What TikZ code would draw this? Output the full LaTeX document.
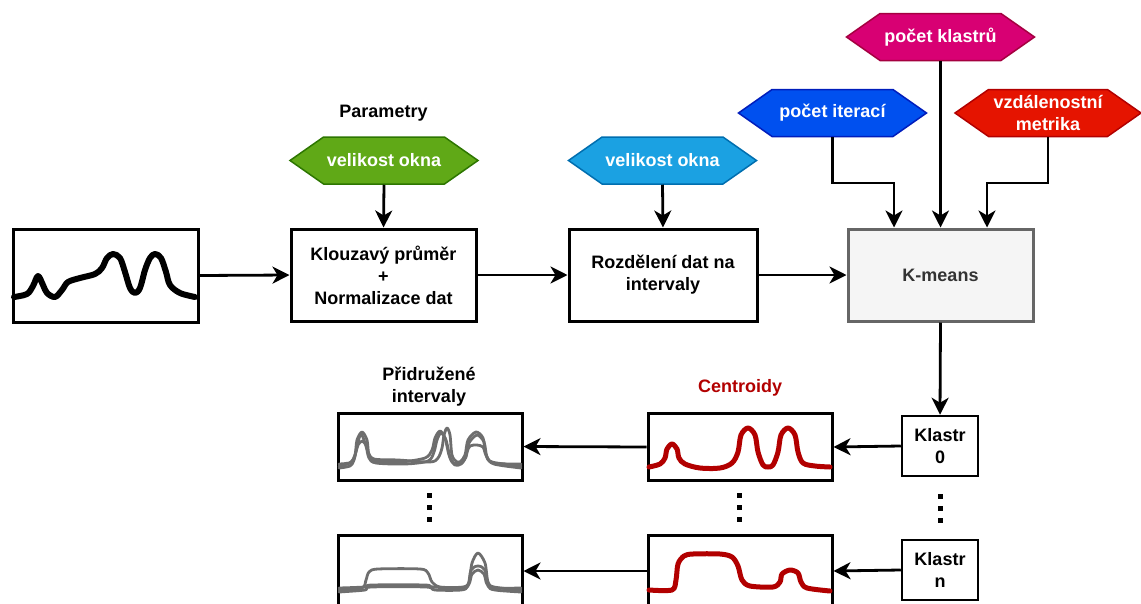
\documentclass[tikz,border=0pt]{standalone}
\usepackage{fontspec}
\setmainfont{Liberation Sans}
\usetikzlibrary{shapes.symbols,arrows.meta}
\definecolor{gfill}{HTML}{60A917}\definecolor{gline}{HTML}{2D7600}
\definecolor{bfill}{HTML}{1BA1E2}\definecolor{bline}{HTML}{006EAF}
\definecolor{mfill}{HTML}{D80073}\definecolor{mline}{HTML}{A50040}
\definecolor{ifill}{HTML}{0050EF}\definecolor{iline}{HTML}{001DBC}
\definecolor{rfill}{HTML}{E51400}\definecolor{rline}{HTML}{B20000}
\definecolor{cred}{HTML}{B20000}
\definecolor{kfill}{HTML}{F5F5F5}\definecolor{kline}{HTML}{666666}
\definecolor{ktext}{HTML}{333333}
\definecolor{wgray}{HTML}{6E6E6E}
\begin{document}
\begin{tikzpicture}[x=1pt,y=-1pt,
  font=\fontsize{18}{22}\selectfont\bfseries,
  box/.style={draw=black, line width=3pt, fill=white, align=center, inner sep=0pt},
  hexa/.style={signal, signal to=west and east, signal pointer angle=70, line width=1.5pt,
     text=white, align=center, minimum height=47, minimum width=188, inner sep=0pt},
  arr/.style={line width=2.8pt, -{Stealth[length=17pt,width=17pt,inset=5pt]}},
  wave/.style={line width=6pt, line cap=round, line join=round},
  cwave/.style={line width=5pt, cred, line cap=round, line join=round},
  gwave/.style={line width=2.8pt, wgray, line cap=round, line join=round},
  dotsq/.style={line width=5pt, dash pattern=on 5pt off 7pt}
]
\useasboundingbox (0,0) rectangle (1141,603);

% main row
\node[box, minimum width=185, minimum height=93] (in) at (105.5,275.5) {};
\node[box, minimum width=185, minimum height=92] (kl) at (383.5,275) {Klouzavý průměr\\+\\Normalizace dat};
\node[box, minimum width=188, minimum height=92] (rz) at (663,275) {Rozdělení dat na\\intervaly};
\node[box, draw=kline, fill=kfill, text=ktext, minimum width=185, minimum height=92] (km) at (940.5,275) {K-means};

% parameters
\node (par) at (383.5,113) {Parametry};
\node[hexa, fill=gfill, draw=gline] (hg) at (384,160.5) {velikost okna};
\node[hexa, fill=bfill, draw=bline] (hb) at (662.5,160.5) {velikost okna};
\node[hexa, fill=mfill, draw=mline] (hk) at (940.5,37) {počet klastrů};
\node[hexa, fill=ifill, draw=iline] (hi) at (832.5,113) {počet iterací};
\node[hexa, fill=rfill, draw=rline, minimum width=186] (hm) at (1048,113) {vzdálenostní\\metrika};

% clusters
\node[box, line width=2.5pt, minimum width=76, minimum height=60] (k0) at (940,446) {Klastr\\0};
\node[box, line width=2.5pt, minimum width=76, minimum height=60] (kn) at (940,570) {Klastr\\n};
\node[box, minimum width=184, minimum height=67] (c0) at (740,447) {};
\node[box, minimum width=184, minimum height=72] (cn) at (740,571) {};
\node[box, minimum width=184, minimum height=67] (a0) at (430,446.5) {};
\node[box, minimum width=184, minimum height=72] (an) at (430,571) {};
\node[text=cred] (lc) at (740,388) {Centroidy};
\node[align=center] (la) at (429,387) {Přidružené\\intervaly};

% connectors
\draw[arr] (in.east) -- (kl.west);
\draw[arr] (kl.east) -- (rz.west);
\draw[arr] (rz.east) -- (km.west);
\draw[arr] (hg.south) -- (kl.north);
\draw[arr] (hb.south) -- (rz.north);
\draw[arr] (hk.south) -- (km.north);
\draw[arr] (hi.south) |- (894,183) -- (km.north -| 894,0);
\draw[arr] (hm.south) |- (987,183) -- (km.north -| 987,0);
\draw[arr] (km.south) -- (k0.north);
\draw[arr] (k0.west) -- (c0.east);
\draw[arr] (kn.west) -- (cn.east);
\draw[arr] (c0.west) -- (a0.east);
\draw[arr] (cn.west) -- (an.east);

% dots
\draw[dotsq] (940,494) -- (940,526);
\draw[dotsq] (739,493) -- (739,525);
\draw[dotsq] (429,493) -- (429,525);

% input wave
\draw[wave] plot[smooth, tension=0.55] coordinates {(14,297) (27,294) (33,286) (38,276) (43,285) (47,293) (55,297) (62,290) (68,282) (80,278) (95,274) (102,268) (107,258) (113,254) (120,258) (125,272) (130,288) (135,293) (140,288) (145,270) (150,258) (155,254) (161,258) (166,272) (170,285) (180,293) (195,297)};

% centroid waves
\draw[cwave] plot[smooth, tension=0.55] coordinates {(649,467) (660,464) (665,458) (667,449) (672,444) (677,449) (679,458) (685,464) (700,468) (720,468) (732,463) (738,452) (741,435) (748,428) (755,435) (758,452) (763,465) (768,467) (773,465) (778,452) (781,435) (788,428) (795,435) (798,452) (803,463) (815,466) (830,467)};
\draw[cwave] plot[smooth, tension=0.5] coordinates {(649,590) (672,590) (676,580) (678,564) (684,556) (693,554) (720,554) (732,557) (738,566) (742,580) (750,586) (773,587) (780,582) (782,574) (790,570) (798,573) (801,582) (807,588) (830,591)};

% associated intervals (top)
\draw[gwave] plot[smooth, tension=0.5] coordinates {(339,466) (350,463) (355,455) (357,440) (362,432) (367,440) (369,455) (375,461) (400,462) (425,458) (432,450) (435,438) (440,431) (445,438) (449,455) (453,463) (460,462) (465,455) (468,440) (476,432) (483,438) (486,455) (492,462) (521,466)};
\draw[gwave] plot[smooth, tension=0.5] coordinates {(339,464) (352,462) (356,452) (358,445) (362,441) (366,445) (368,452) (374,459) (398,460) (430,462) (438,458) (442,448) (444,435) (447,428) (450,435) (452,455) (457,462) (464,460) (467,452) (470,446) (477,445) (483,447) (486,455) (493,463) (521,464)};
\draw[gwave] plot[smooth, tension=0.5] coordinates {(339,468) (350,466) (354,460) (357,446) (361,434) (366,446) (369,458) (376,463) (405,464) (428,461) (434,452) (437,440) (441,433) (446,440) (450,457) (455,465) (461,464) (466,457) (469,443) (477,435) (484,442) (487,457) (494,464) (521,468)};

% associated intervals (bottom)
\draw[gwave] plot[smooth, tension=0.5] coordinates {(339,590) (362,588) (366,580) (369,572) (378,569) (420,569) (428,573) (432,582) (440,587) (463,587) (469,582) (472,563) (478,553) (485,563) (488,582) (494,587) (521,590)};
\draw[gwave] plot[smooth, tension=0.5] coordinates {(339,588) (364,587) (372,585) (425,585) (433,587) (462,588) (469,584) (472,574) (478,570) (484,574) (487,584) (495,588) (521,588)};
\draw[gwave] plot[smooth, tension=0.5] coordinates {(339,592) (365,590) (371,587) (426,587) (435,590) (461,590) (468,586) (471,570) (478,566) (485,570) (488,586) (495,590) (521,592)};
\end{tikzpicture}
\end{document}
